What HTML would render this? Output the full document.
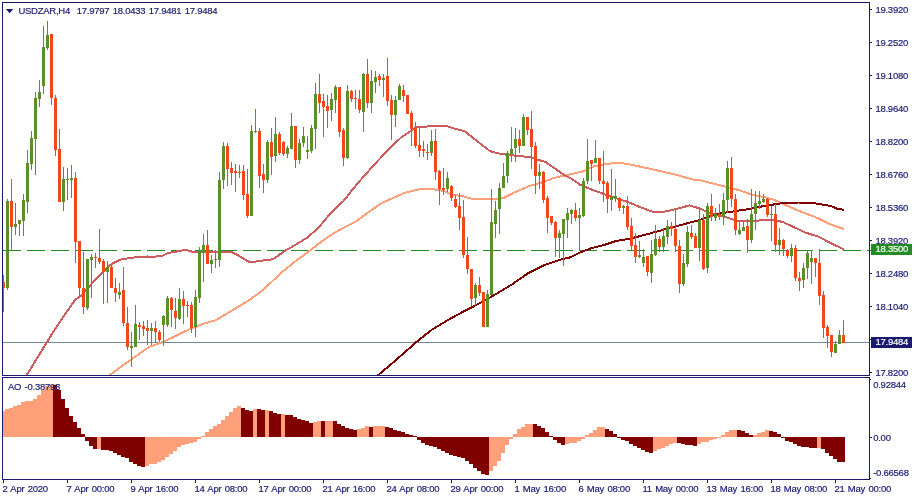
<!DOCTYPE html>
<html lang="en"><head><meta charset="utf-8"><title>USDZAR,H4</title>
<style>html,body{margin:0;padding:0;background:#fff}body{width:915px;height:500px;overflow:hidden}svg{display:block}text{font-family:"Liberation Sans",sans-serif;font-size:9.5px;fill:#191970;stroke:#191970;stroke-width:0.18px;letter-spacing:-0.25px;word-spacing:1px}</style></head><body>
<svg width="915" height="500" viewBox="0 0 915 500">
<rect width="915" height="500" fill="#fff"/>
<defs><clipPath id="cm"><rect x="3" y="3" width="866" height="372"/></clipPath></defs>
<g clip-path="url(#cm)">
<g fill="#228b22">
<rect x="3" y="250" width="18" height="1"/>
<rect x="27" y="250" width="18" height="1"/>
<rect x="51" y="250" width="18" height="1"/>
<rect x="75" y="250" width="18" height="1"/>
<rect x="99" y="250" width="18" height="1"/>
<rect x="123" y="250" width="18" height="1"/>
<rect x="147" y="250" width="18" height="1"/>
<rect x="171" y="250" width="18" height="1"/>
<rect x="195" y="250" width="18" height="1"/>
<rect x="219" y="250" width="18" height="1"/>
<rect x="243" y="250" width="18" height="1"/>
<rect x="267" y="250" width="18" height="1"/>
<rect x="291" y="250" width="18" height="1"/>
<rect x="315" y="250" width="18" height="1"/>
<rect x="339" y="250" width="18" height="1"/>
<rect x="363" y="250" width="18" height="1"/>
<rect x="387" y="250" width="18" height="1"/>
<rect x="411" y="250" width="18" height="1"/>
<rect x="435" y="250" width="18" height="1"/>
<rect x="459" y="250" width="18" height="1"/>
<rect x="483" y="250" width="18" height="1"/>
<rect x="507" y="250" width="18" height="1"/>
<rect x="531" y="250" width="18" height="1"/>
<rect x="555" y="250" width="18" height="1"/>
<rect x="579" y="250" width="18" height="1"/>
<rect x="603" y="250" width="18" height="1"/>
<rect x="627" y="250" width="18" height="1"/>
<rect x="651" y="250" width="18" height="1"/>
<rect x="675" y="250" width="18" height="1"/>
<rect x="699" y="250" width="18" height="1"/>
<rect x="723" y="250" width="18" height="1"/>
<rect x="747" y="250" width="18" height="1"/>
<rect x="771" y="250" width="18" height="1"/>
<rect x="795" y="250" width="18" height="1"/>
<rect x="819" y="250" width="18" height="1"/>
<rect x="843" y="250" width="18" height="1"/>
<rect x="867" y="250" width="2" height="1"/>
</g>
<rect x="3" y="342" width="866" height="1" fill="#778899"/>
<polyline shape-rendering="crispEdges" fill="none" stroke="#ffa07a" stroke-width="2" stroke-linejoin="round" points="106,378 110.7,374.6 121.3,366.4 131,359.8 141,352.5 150,346.5 163,342 174.6,336.4 189.3,329.3 204,323.6 215.6,320.3 232,310.5 248.4,300.7 263,290 281,273 295.7,261 311.3,249.7 319.5,243 332.6,234 344,227.5 355.6,221.8 368.7,212 381.8,203 388.4,200 404.8,192.8 417.9,189.6 427.7,188.6 437.7,189.8 444,191 451.3,194.6 462.8,196.2 472.6,199 495.6,199 503.8,197.9 515.2,192 528.4,186.4 544.8,181.5 553.8,177.9 568.5,174.7 583,171.4 594.7,166 606,164.2 617.6,162.6 627.4,164 643.8,167.4 661.8,171.5 676.6,174.8 691.3,179.3 700,180.3 713,183.6 726.2,186.9 739.3,190.2 750.8,194.3 765.6,197.5 773.8,199.7 785.2,204.9 798.4,210.7 814.8,216.8 831,224.6 843.8,229"/>
<polyline shape-rendering="crispEdges" fill="none" stroke="#cd5c5c" stroke-width="2" stroke-linejoin="round" points="25,378 27,374.6 46.7,342.6 52.5,333 65.6,313.5 75.4,299.5 82,295 91.8,283.6 101.6,273 111.5,264 119.7,259.8 131,257.7 147.5,256.5 150,257.2 163,255.6 168,253 186,249.8 192.6,251.8 207.4,252.3 222,251.5 232,252.3 238.5,255.6 248.4,261.6 255,261.6 273,259.2 286,250.2 290,248 306.4,238.2 317.9,228.4 331,212.8 344,200.5 352.3,189.8 362.3,178 375.4,163.3 390.2,147.7 401.6,137 411.5,130.5 416.4,127.4 428,126.4 448,126.4 454.6,128.7 464.4,131.1 480,143.4 489.8,151 499.7,153.8 512.8,155.4 529,157 545.6,162 555.4,168.9 565,175.4 572,179 579.8,184.6 591.3,189.5 602.8,193.6 614.3,197.7 627.4,201.8 638.9,206.7 652,211.6 665,211.6 676.6,208.9 689.7,205.4 699.5,208.4 709.5,212.8 721.3,215.7 736.4,220.5 745,220.9 755.7,220.8 769,219.6 782.3,221.8 793.6,227 805.2,232.5 818.4,236.6 831.5,243.6 843.8,249.3"/>
<polyline shape-rendering="crispEdges" fill="none" stroke="#800000" stroke-width="2" stroke-linejoin="round" points="375,378 378.7,374.7 396,360 415.6,342.7 432,329.6 448.4,319.8 464.8,310.8 481,302.6 495.6,294.3 512,284.4 528.4,273 544.8,264.8 561,259.5 570,257.4 579.8,252.5 591.3,248.2 602.8,245.4 616,241 629,238.9 642,235.6 655.2,232 668.4,228.4 684.8,224 699.5,220 716.4,214 732.8,211.5 749,209 765.6,205.7 777,204 785.2,202.8 798.4,202.5 811.5,202.8 821.3,204.4 831,206 837.7,209 844,209.8"/>
<g fill="#5a8f29">
<rect x="7" y="199" width="1" height="91"/>
<rect x="6" y="201" width="3" height="87"/>
<rect x="15" y="203" width="1" height="32"/>
<rect x="14" y="224" width="3" height="3"/>
<rect x="19" y="220" width="1" height="16"/>
<rect x="18" y="220" width="3" height="4"/>
<rect x="23" y="194" width="1" height="42"/>
<rect x="22" y="200" width="3" height="21"/>
<rect x="27" y="150" width="1" height="63"/>
<rect x="26" y="163" width="3" height="39"/>
<rect x="31" y="131" width="1" height="39"/>
<rect x="30" y="138" width="3" height="26"/>
<rect x="35" y="92" width="1" height="83"/>
<rect x="34" y="98" width="3" height="41"/>
<rect x="39" y="80" width="1" height="27"/>
<rect x="38" y="92" width="3" height="7"/>
<rect x="43" y="26" width="1" height="68"/>
<rect x="42" y="47" width="3" height="39"/>
<rect x="47" y="21" width="1" height="29"/>
<rect x="46" y="35" width="3" height="13"/>
<rect x="63" y="167" width="1" height="44"/>
<rect x="62" y="179" width="3" height="23"/>
<rect x="67" y="168" width="1" height="32"/>
<rect x="66" y="179" width="3" height="1"/>
<rect x="71" y="165" width="1" height="33"/>
<rect x="70" y="178" width="3" height="2"/>
<rect x="87" y="259" width="1" height="51"/>
<rect x="86" y="259" width="3" height="49"/>
<rect x="91" y="254" width="1" height="44"/>
<rect x="90" y="257" width="3" height="3"/>
<rect x="107" y="261" width="1" height="42"/>
<rect x="106" y="267" width="3" height="5"/>
<rect x="119" y="283" width="1" height="16"/>
<rect x="118" y="292" width="3" height="3"/>
<rect x="131" y="332" width="1" height="35"/>
<rect x="130" y="346" width="3" height="2"/>
<rect x="135" y="305" width="1" height="42"/>
<rect x="134" y="324" width="3" height="23"/>
<rect x="151" y="323" width="1" height="22"/>
<rect x="150" y="328" width="3" height="3"/>
<rect x="163" y="315" width="1" height="31"/>
<rect x="162" y="316" width="3" height="9"/>
<rect x="167" y="296" width="1" height="31"/>
<rect x="166" y="298" width="3" height="27"/>
<rect x="179" y="288" width="1" height="32"/>
<rect x="178" y="299" width="3" height="20"/>
<rect x="195" y="290" width="1" height="47"/>
<rect x="194" y="297" width="3" height="30"/>
<rect x="199" y="247" width="1" height="56"/>
<rect x="198" y="251" width="3" height="47"/>
<rect x="203" y="234" width="1" height="48"/>
<rect x="202" y="245" width="3" height="8"/>
<rect x="211" y="255" width="1" height="18"/>
<rect x="210" y="260" width="3" height="4"/>
<rect x="215" y="250" width="1" height="18"/>
<rect x="214" y="259" width="3" height="1"/>
<rect x="219" y="172" width="1" height="95"/>
<rect x="218" y="180" width="3" height="80"/>
<rect x="223" y="142" width="1" height="47"/>
<rect x="222" y="146" width="3" height="34"/>
<rect x="251" y="125" width="1" height="91"/>
<rect x="250" y="131" width="3" height="85"/>
<rect x="255" y="109" width="1" height="24"/>
<rect x="254" y="131" width="3" height="1"/>
<rect x="267" y="140" width="1" height="43"/>
<rect x="266" y="142" width="3" height="38"/>
<rect x="275" y="117" width="1" height="45"/>
<rect x="274" y="134" width="3" height="22"/>
<rect x="287" y="146" width="1" height="12"/>
<rect x="286" y="148" width="3" height="6"/>
<rect x="291" y="113" width="1" height="36"/>
<rect x="290" y="126" width="3" height="23"/>
<rect x="299" y="139" width="1" height="25"/>
<rect x="298" y="143" width="3" height="17"/>
<rect x="303" y="127" width="1" height="20"/>
<rect x="302" y="136" width="3" height="7"/>
<rect x="307" y="136" width="1" height="23"/>
<rect x="306" y="150" width="3" height="2"/>
<rect x="311" y="125" width="1" height="28"/>
<rect x="310" y="128" width="3" height="23"/>
<rect x="315" y="83" width="1" height="66"/>
<rect x="314" y="94" width="3" height="35"/>
<rect x="331" y="93" width="1" height="28"/>
<rect x="330" y="99" width="3" height="11"/>
<rect x="335" y="85" width="1" height="28"/>
<rect x="334" y="87" width="3" height="13"/>
<rect x="347" y="85" width="1" height="74"/>
<rect x="346" y="91" width="3" height="67"/>
<rect x="363" y="73" width="1" height="59"/>
<rect x="362" y="74" width="3" height="38"/>
<rect x="371" y="70" width="1" height="43"/>
<rect x="370" y="81" width="3" height="22"/>
<rect x="375" y="71" width="1" height="22"/>
<rect x="374" y="77" width="3" height="5"/>
<rect x="383" y="74" width="1" height="23"/>
<rect x="382" y="78" width="3" height="2"/>
<rect x="395" y="96" width="1" height="31"/>
<rect x="394" y="100" width="3" height="15"/>
<rect x="399" y="84" width="1" height="16"/>
<rect x="398" y="86" width="3" height="14"/>
<rect x="431" y="130" width="1" height="26"/>
<rect x="430" y="141" width="3" height="12"/>
<rect x="447" y="172" width="1" height="20"/>
<rect x="446" y="178" width="3" height="11"/>
<rect x="475" y="283" width="1" height="22"/>
<rect x="474" y="285" width="3" height="13"/>
<rect x="487" y="290" width="1" height="37"/>
<rect x="486" y="294" width="3" height="33"/>
<rect x="491" y="189" width="1" height="106"/>
<rect x="490" y="222" width="3" height="73"/>
<rect x="495" y="201" width="1" height="37"/>
<rect x="494" y="210" width="3" height="14"/>
<rect x="499" y="183" width="1" height="51"/>
<rect x="498" y="188" width="3" height="21"/>
<rect x="503" y="163" width="1" height="25"/>
<rect x="502" y="176" width="3" height="12"/>
<rect x="507" y="151" width="1" height="32"/>
<rect x="506" y="153" width="3" height="23"/>
<rect x="511" y="127" width="1" height="35"/>
<rect x="510" y="149" width="3" height="5"/>
<rect x="515" y="128" width="1" height="34"/>
<rect x="514" y="139" width="3" height="9"/>
<rect x="523" y="114" width="1" height="32"/>
<rect x="522" y="117" width="3" height="29"/>
<rect x="539" y="164" width="1" height="25"/>
<rect x="538" y="172" width="3" height="4"/>
<rect x="559" y="230" width="1" height="28"/>
<rect x="558" y="233" width="3" height="5"/>
<rect x="563" y="219" width="1" height="47"/>
<rect x="562" y="219" width="3" height="15"/>
<rect x="567" y="208" width="1" height="30"/>
<rect x="566" y="213" width="3" height="7"/>
<rect x="571" y="209" width="1" height="15"/>
<rect x="570" y="210" width="3" height="4"/>
<rect x="579" y="208" width="1" height="43"/>
<rect x="578" y="215" width="3" height="3"/>
<rect x="583" y="178" width="1" height="39"/>
<rect x="582" y="181" width="3" height="35"/>
<rect x="587" y="139" width="1" height="45"/>
<rect x="586" y="161" width="3" height="20"/>
<rect x="595" y="140" width="1" height="23"/>
<rect x="594" y="158" width="3" height="5"/>
<rect x="611" y="169" width="1" height="42"/>
<rect x="610" y="197" width="3" height="3"/>
<rect x="615" y="179" width="1" height="23"/>
<rect x="614" y="196" width="3" height="3"/>
<rect x="623" y="205" width="1" height="9"/>
<rect x="622" y="206" width="3" height="2"/>
<rect x="639" y="241" width="1" height="17"/>
<rect x="638" y="255" width="3" height="2"/>
<rect x="643" y="249" width="1" height="18"/>
<rect x="642" y="257" width="3" height="6"/>
<rect x="651" y="240" width="1" height="43"/>
<rect x="650" y="254" width="3" height="19"/>
<rect x="655" y="225" width="1" height="31"/>
<rect x="654" y="239" width="3" height="16"/>
<rect x="663" y="228" width="1" height="24"/>
<rect x="662" y="236" width="3" height="11"/>
<rect x="667" y="220" width="1" height="24"/>
<rect x="666" y="226" width="3" height="11"/>
<rect x="683" y="254" width="1" height="32"/>
<rect x="682" y="263" width="3" height="21"/>
<rect x="687" y="226" width="1" height="41"/>
<rect x="686" y="232" width="3" height="32"/>
<rect x="699" y="208" width="1" height="53"/>
<rect x="698" y="220" width="3" height="28"/>
<rect x="707" y="203" width="1" height="70"/>
<rect x="706" y="206" width="3" height="62"/>
<rect x="715" y="208" width="1" height="13"/>
<rect x="714" y="214" width="3" height="4"/>
<rect x="723" y="193" width="1" height="32"/>
<rect x="722" y="200" width="3" height="17"/>
<rect x="727" y="161" width="1" height="52"/>
<rect x="726" y="168" width="3" height="32"/>
<rect x="739" y="222" width="1" height="13"/>
<rect x="738" y="230" width="3" height="4"/>
<rect x="743" y="222" width="1" height="9"/>
<rect x="742" y="227" width="3" height="4"/>
<rect x="751" y="189" width="1" height="54"/>
<rect x="750" y="214" width="3" height="26"/>
<rect x="755" y="191" width="1" height="39"/>
<rect x="754" y="203" width="3" height="11"/>
<rect x="759" y="191" width="1" height="18"/>
<rect x="758" y="201" width="3" height="3"/>
<rect x="763" y="194" width="1" height="9"/>
<rect x="762" y="199" width="3" height="3"/>
<rect x="771" y="206" width="1" height="35"/>
<rect x="770" y="214" width="3" height="1"/>
<rect x="779" y="228" width="1" height="27"/>
<rect x="778" y="240" width="3" height="5"/>
<rect x="791" y="244" width="1" height="18"/>
<rect x="790" y="248" width="3" height="8"/>
<rect x="803" y="263" width="1" height="25"/>
<rect x="802" y="268" width="3" height="12"/>
<rect x="807" y="250" width="1" height="29"/>
<rect x="806" y="253" width="3" height="15"/>
<rect x="811" y="250" width="1" height="34"/>
<rect x="810" y="258" width="3" height="4"/>
<rect x="835" y="341" width="1" height="12"/>
<rect x="834" y="344" width="3" height="9"/>
<rect x="839" y="330" width="1" height="14"/>
<rect x="838" y="335" width="3" height="9"/>
</g>
<g fill="#f0471c">
<rect x="3" y="275" width="1" height="37"/>
<rect x="2" y="282" width="3" height="6"/>
<rect x="11" y="179" width="1" height="72"/>
<rect x="10" y="201" width="3" height="26"/>
<rect x="51" y="34" width="1" height="71"/>
<rect x="50" y="34" width="3" height="64"/>
<rect x="55" y="95" width="1" height="61"/>
<rect x="54" y="98" width="3" height="52"/>
<rect x="59" y="129" width="1" height="73"/>
<rect x="58" y="149" width="3" height="53"/>
<rect x="75" y="172" width="1" height="91"/>
<rect x="74" y="178" width="3" height="64"/>
<rect x="79" y="241" width="1" height="55"/>
<rect x="78" y="241" width="3" height="47"/>
<rect x="83" y="252" width="1" height="62"/>
<rect x="82" y="288" width="3" height="19"/>
<rect x="95" y="253" width="1" height="15"/>
<rect x="94" y="257" width="3" height="1"/>
<rect x="99" y="229" width="1" height="35"/>
<rect x="98" y="258" width="3" height="4"/>
<rect x="103" y="259" width="1" height="45"/>
<rect x="102" y="261" width="3" height="11"/>
<rect x="111" y="265" width="1" height="23"/>
<rect x="110" y="267" width="3" height="21"/>
<rect x="115" y="278" width="1" height="24"/>
<rect x="114" y="288" width="3" height="5"/>
<rect x="123" y="267" width="1" height="59"/>
<rect x="122" y="290" width="3" height="33"/>
<rect x="127" y="307" width="1" height="43"/>
<rect x="126" y="323" width="3" height="24"/>
<rect x="139" y="322" width="1" height="18"/>
<rect x="138" y="325" width="3" height="2"/>
<rect x="143" y="321" width="1" height="15"/>
<rect x="142" y="326" width="3" height="3"/>
<rect x="147" y="320" width="1" height="25"/>
<rect x="146" y="328" width="3" height="3"/>
<rect x="155" y="321" width="1" height="22"/>
<rect x="154" y="328" width="3" height="4"/>
<rect x="159" y="330" width="1" height="12"/>
<rect x="158" y="332" width="3" height="8"/>
<rect x="171" y="297" width="1" height="30"/>
<rect x="170" y="298" width="3" height="12"/>
<rect x="175" y="298" width="1" height="31"/>
<rect x="174" y="311" width="3" height="7"/>
<rect x="183" y="291" width="1" height="33"/>
<rect x="182" y="299" width="3" height="7"/>
<rect x="187" y="301" width="1" height="16"/>
<rect x="186" y="305" width="3" height="1"/>
<rect x="191" y="302" width="1" height="31"/>
<rect x="190" y="305" width="3" height="23"/>
<rect x="207" y="230" width="1" height="34"/>
<rect x="206" y="245" width="3" height="19"/>
<rect x="227" y="143" width="1" height="43"/>
<rect x="226" y="146" width="3" height="23"/>
<rect x="231" y="162" width="1" height="23"/>
<rect x="230" y="168" width="3" height="5"/>
<rect x="235" y="164" width="1" height="28"/>
<rect x="234" y="171" width="3" height="2"/>
<rect x="239" y="165" width="1" height="13"/>
<rect x="238" y="172" width="3" height="1"/>
<rect x="243" y="165" width="1" height="35"/>
<rect x="242" y="171" width="3" height="24"/>
<rect x="247" y="169" width="1" height="49"/>
<rect x="246" y="194" width="3" height="22"/>
<rect x="259" y="128" width="1" height="60"/>
<rect x="258" y="131" width="3" height="45"/>
<rect x="263" y="164" width="1" height="29"/>
<rect x="262" y="174" width="3" height="6"/>
<rect x="271" y="128" width="1" height="47"/>
<rect x="270" y="142" width="3" height="15"/>
<rect x="279" y="132" width="1" height="23"/>
<rect x="278" y="134" width="3" height="19"/>
<rect x="283" y="141" width="1" height="15"/>
<rect x="282" y="142" width="3" height="12"/>
<rect x="295" y="126" width="1" height="42"/>
<rect x="294" y="126" width="3" height="34"/>
<rect x="319" y="74" width="1" height="39"/>
<rect x="318" y="94" width="3" height="9"/>
<rect x="323" y="94" width="1" height="43"/>
<rect x="322" y="101" width="3" height="6"/>
<rect x="327" y="95" width="1" height="33"/>
<rect x="326" y="106" width="3" height="5"/>
<rect x="339" y="87" width="1" height="50"/>
<rect x="338" y="87" width="3" height="45"/>
<rect x="343" y="128" width="1" height="38"/>
<rect x="342" y="130" width="3" height="28"/>
<rect x="351" y="90" width="1" height="12"/>
<rect x="350" y="91" width="3" height="8"/>
<rect x="355" y="90" width="1" height="19"/>
<rect x="354" y="98" width="3" height="1"/>
<rect x="359" y="90" width="1" height="23"/>
<rect x="358" y="99" width="3" height="11"/>
<rect x="367" y="59" width="1" height="49"/>
<rect x="366" y="74" width="3" height="29"/>
<rect x="379" y="74" width="1" height="12"/>
<rect x="378" y="76" width="3" height="4"/>
<rect x="387" y="58" width="1" height="48"/>
<rect x="386" y="76" width="3" height="25"/>
<rect x="391" y="95" width="1" height="45"/>
<rect x="390" y="100" width="3" height="15"/>
<rect x="403" y="85" width="1" height="17"/>
<rect x="402" y="90" width="3" height="6"/>
<rect x="407" y="95" width="1" height="19"/>
<rect x="406" y="95" width="3" height="19"/>
<rect x="411" y="111" width="1" height="35"/>
<rect x="410" y="113" width="3" height="16"/>
<rect x="415" y="122" width="1" height="26"/>
<rect x="414" y="128" width="3" height="18"/>
<rect x="419" y="128" width="1" height="29"/>
<rect x="418" y="145" width="3" height="6"/>
<rect x="423" y="141" width="1" height="16"/>
<rect x="422" y="149" width="3" height="2"/>
<rect x="427" y="144" width="1" height="16"/>
<rect x="426" y="152" width="3" height="1"/>
<rect x="435" y="129" width="1" height="51"/>
<rect x="434" y="141" width="3" height="31"/>
<rect x="439" y="170" width="1" height="35"/>
<rect x="438" y="171" width="3" height="18"/>
<rect x="443" y="168" width="1" height="27"/>
<rect x="442" y="188" width="3" height="2"/>
<rect x="451" y="185" width="1" height="16"/>
<rect x="450" y="186" width="3" height="12"/>
<rect x="455" y="195" width="1" height="13"/>
<rect x="454" y="199" width="3" height="8"/>
<rect x="459" y="193" width="1" height="37"/>
<rect x="458" y="206" width="3" height="12"/>
<rect x="463" y="200" width="1" height="58"/>
<rect x="462" y="217" width="3" height="38"/>
<rect x="467" y="237" width="1" height="37"/>
<rect x="466" y="255" width="3" height="14"/>
<rect x="471" y="269" width="1" height="37"/>
<rect x="470" y="269" width="3" height="30"/>
<rect x="479" y="277" width="1" height="19"/>
<rect x="478" y="285" width="3" height="8"/>
<rect x="483" y="292" width="1" height="35"/>
<rect x="482" y="292" width="3" height="35"/>
<rect x="519" y="130" width="1" height="23"/>
<rect x="518" y="139" width="3" height="7"/>
<rect x="527" y="117" width="1" height="18"/>
<rect x="526" y="117" width="3" height="13"/>
<rect x="531" y="111" width="1" height="58"/>
<rect x="530" y="129" width="3" height="18"/>
<rect x="535" y="142" width="1" height="52"/>
<rect x="534" y="146" width="3" height="30"/>
<rect x="543" y="171" width="1" height="32"/>
<rect x="542" y="172" width="3" height="28"/>
<rect x="547" y="196" width="1" height="37"/>
<rect x="546" y="198" width="3" height="20"/>
<rect x="551" y="216" width="1" height="9"/>
<rect x="550" y="216" width="3" height="7"/>
<rect x="555" y="221" width="1" height="36"/>
<rect x="554" y="222" width="3" height="16"/>
<rect x="575" y="203" width="1" height="18"/>
<rect x="574" y="210" width="3" height="8"/>
<rect x="591" y="160" width="1" height="21"/>
<rect x="590" y="160" width="3" height="4"/>
<rect x="599" y="158" width="1" height="26"/>
<rect x="598" y="158" width="3" height="23"/>
<rect x="603" y="151" width="1" height="51"/>
<rect x="602" y="181" width="3" height="3"/>
<rect x="607" y="181" width="1" height="32"/>
<rect x="606" y="183" width="3" height="16"/>
<rect x="619" y="197" width="1" height="14"/>
<rect x="618" y="198" width="3" height="10"/>
<rect x="627" y="196" width="1" height="34"/>
<rect x="626" y="206" width="3" height="21"/>
<rect x="631" y="218" width="1" height="32"/>
<rect x="630" y="226" width="3" height="20"/>
<rect x="635" y="233" width="1" height="30"/>
<rect x="634" y="245" width="3" height="12"/>
<rect x="647" y="256" width="1" height="20"/>
<rect x="646" y="256" width="3" height="16"/>
<rect x="659" y="236" width="1" height="16"/>
<rect x="658" y="239" width="3" height="8"/>
<rect x="671" y="222" width="1" height="14"/>
<rect x="670" y="226" width="3" height="3"/>
<rect x="675" y="210" width="1" height="42"/>
<rect x="674" y="229" width="3" height="17"/>
<rect x="679" y="240" width="1" height="53"/>
<rect x="678" y="246" width="3" height="38"/>
<rect x="691" y="225" width="1" height="14"/>
<rect x="690" y="233" width="3" height="4"/>
<rect x="695" y="233" width="1" height="15"/>
<rect x="694" y="236" width="3" height="12"/>
<rect x="703" y="214" width="1" height="56"/>
<rect x="702" y="220" width="3" height="49"/>
<rect x="711" y="194" width="1" height="27"/>
<rect x="710" y="206" width="3" height="11"/>
<rect x="719" y="204" width="1" height="16"/>
<rect x="718" y="214" width="3" height="3"/>
<rect x="731" y="157" width="1" height="50"/>
<rect x="730" y="168" width="3" height="31"/>
<rect x="735" y="194" width="1" height="41"/>
<rect x="734" y="199" width="3" height="31"/>
<rect x="747" y="219" width="1" height="34"/>
<rect x="746" y="226" width="3" height="14"/>
<rect x="767" y="198" width="1" height="19"/>
<rect x="766" y="199" width="3" height="16"/>
<rect x="775" y="204" width="1" height="48"/>
<rect x="774" y="214" width="3" height="31"/>
<rect x="783" y="239" width="1" height="17"/>
<rect x="782" y="240" width="3" height="9"/>
<rect x="787" y="249" width="1" height="9"/>
<rect x="786" y="250" width="3" height="6"/>
<rect x="795" y="245" width="1" height="36"/>
<rect x="794" y="248" width="3" height="30"/>
<rect x="799" y="272" width="1" height="19"/>
<rect x="798" y="278" width="3" height="3"/>
<rect x="815" y="258" width="1" height="19"/>
<rect x="814" y="258" width="3" height="5"/>
<rect x="819" y="249" width="1" height="56"/>
<rect x="818" y="263" width="3" height="33"/>
<rect x="823" y="291" width="1" height="47"/>
<rect x="822" y="295" width="3" height="33"/>
<rect x="827" y="325" width="1" height="23"/>
<rect x="826" y="327" width="3" height="9"/>
<rect x="831" y="335" width="1" height="22"/>
<rect x="830" y="335" width="3" height="17"/>
<rect x="843" y="320" width="1" height="23"/>
<rect x="842" y="335" width="3" height="8"/>
</g>
</g>
<g fill="#ffa07a">
<rect x="3" y="411" width="2" height="26"/>
<rect x="5" y="409" width="4" height="28"/>
<rect x="9" y="408" width="4" height="29"/>
<rect x="13" y="406" width="4" height="31"/>
<rect x="17" y="405" width="4" height="32"/>
<rect x="21" y="402" width="4" height="35"/>
<rect x="25" y="401" width="4" height="36"/>
<rect x="29" y="401" width="4" height="36"/>
<rect x="33" y="399" width="4" height="38"/>
<rect x="37" y="395" width="4" height="42"/>
<rect x="41" y="390" width="4" height="47"/>
<rect x="45" y="386" width="4" height="51"/>
<rect x="49" y="385" width="4" height="52"/>
<rect x="97" y="437" width="4" height="12"/>
<rect x="145" y="437" width="4" height="29"/>
<rect x="149" y="437" width="4" height="27"/>
<rect x="153" y="437" width="4" height="27"/>
<rect x="157" y="437" width="4" height="25"/>
<rect x="161" y="437" width="4" height="23"/>
<rect x="165" y="437" width="4" height="20"/>
<rect x="169" y="437" width="4" height="17"/>
<rect x="173" y="437" width="4" height="14"/>
<rect x="177" y="437" width="4" height="10"/>
<rect x="181" y="437" width="4" height="8"/>
<rect x="185" y="437" width="4" height="7"/>
<rect x="189" y="437" width="4" height="6"/>
<rect x="193" y="437" width="4" height="5"/>
<rect x="197" y="437" width="4" height="2"/>
<rect x="201" y="436" width="4" height="1"/>
<rect x="205" y="432" width="4" height="5"/>
<rect x="209" y="429" width="4" height="8"/>
<rect x="213" y="426" width="4" height="11"/>
<rect x="217" y="424" width="4" height="13"/>
<rect x="221" y="420" width="4" height="17"/>
<rect x="225" y="416" width="4" height="21"/>
<rect x="229" y="412" width="4" height="25"/>
<rect x="233" y="408" width="4" height="29"/>
<rect x="237" y="406" width="4" height="31"/>
<rect x="253" y="409" width="4" height="28"/>
<rect x="265" y="410" width="4" height="27"/>
<rect x="281" y="414" width="4" height="23"/>
<rect x="313" y="422" width="4" height="15"/>
<rect x="317" y="421" width="4" height="16"/>
<rect x="325" y="421" width="4" height="16"/>
<rect x="329" y="421" width="4" height="16"/>
<rect x="357" y="429" width="4" height="8"/>
<rect x="361" y="428" width="4" height="9"/>
<rect x="365" y="426" width="4" height="11"/>
<rect x="373" y="426" width="4" height="11"/>
<rect x="377" y="426" width="4" height="11"/>
<rect x="381" y="426" width="4" height="11"/>
<rect x="489" y="437" width="4" height="34"/>
<rect x="493" y="437" width="4" height="29"/>
<rect x="497" y="437" width="4" height="24"/>
<rect x="501" y="437" width="4" height="16"/>
<rect x="505" y="437" width="4" height="8"/>
<rect x="509" y="437" width="4" height="2"/>
<rect x="513" y="434" width="4" height="3"/>
<rect x="517" y="429" width="4" height="8"/>
<rect x="521" y="427" width="4" height="10"/>
<rect x="525" y="424" width="4" height="13"/>
<rect x="529" y="424" width="4" height="13"/>
<rect x="565" y="437" width="4" height="7"/>
<rect x="569" y="437" width="4" height="6"/>
<rect x="573" y="437" width="4" height="6"/>
<rect x="577" y="437" width="4" height="4"/>
<rect x="581" y="437" width="4" height="2"/>
<rect x="585" y="435" width="4" height="2"/>
<rect x="589" y="433" width="4" height="4"/>
<rect x="593" y="430" width="4" height="7"/>
<rect x="597" y="427" width="4" height="10"/>
<rect x="601" y="427" width="4" height="10"/>
<rect x="653" y="437" width="4" height="14"/>
<rect x="657" y="437" width="4" height="12"/>
<rect x="661" y="437" width="4" height="11"/>
<rect x="665" y="437" width="4" height="9"/>
<rect x="669" y="437" width="4" height="7"/>
<rect x="673" y="437" width="4" height="6"/>
<rect x="697" y="437" width="4" height="7"/>
<rect x="701" y="437" width="4" height="5"/>
<rect x="705" y="437" width="4" height="5"/>
<rect x="709" y="437" width="4" height="3"/>
<rect x="713" y="437" width="4" height="2"/>
<rect x="717" y="437" width="4" height="1"/>
<rect x="721" y="435" width="4" height="2"/>
<rect x="725" y="432" width="4" height="5"/>
<rect x="729" y="430" width="4" height="7"/>
<rect x="733" y="430" width="4" height="7"/>
<rect x="753" y="435" width="4" height="2"/>
<rect x="757" y="433" width="4" height="4"/>
<rect x="761" y="432" width="4" height="5"/>
<rect x="765" y="430" width="4" height="7"/>
<rect x="817" y="437" width="4" height="11"/>
</g>
<g fill="#800000">
<rect x="53" y="385" width="4" height="52"/>
<rect x="57" y="390" width="4" height="47"/>
<rect x="61" y="399" width="4" height="38"/>
<rect x="65" y="408" width="4" height="29"/>
<rect x="69" y="416" width="4" height="21"/>
<rect x="73" y="422" width="4" height="15"/>
<rect x="77" y="428" width="4" height="9"/>
<rect x="81" y="434" width="4" height="3"/>
<rect x="85" y="437" width="4" height="4"/>
<rect x="89" y="437" width="4" height="9"/>
<rect x="93" y="437" width="4" height="12"/>
<rect x="101" y="437" width="4" height="13"/>
<rect x="105" y="437" width="4" height="13"/>
<rect x="109" y="437" width="4" height="14"/>
<rect x="113" y="437" width="4" height="16"/>
<rect x="117" y="437" width="4" height="18"/>
<rect x="121" y="437" width="4" height="20"/>
<rect x="125" y="437" width="4" height="21"/>
<rect x="129" y="437" width="4" height="25"/>
<rect x="133" y="437" width="4" height="27"/>
<rect x="137" y="437" width="4" height="29"/>
<rect x="141" y="437" width="4" height="30"/>
<rect x="241" y="408" width="4" height="29"/>
<rect x="245" y="410" width="4" height="27"/>
<rect x="249" y="411" width="4" height="26"/>
<rect x="257" y="409" width="4" height="28"/>
<rect x="261" y="410" width="4" height="27"/>
<rect x="269" y="411" width="4" height="26"/>
<rect x="273" y="413" width="4" height="24"/>
<rect x="277" y="414" width="4" height="23"/>
<rect x="285" y="415" width="4" height="22"/>
<rect x="289" y="415" width="4" height="22"/>
<rect x="293" y="417" width="4" height="20"/>
<rect x="297" y="419" width="4" height="18"/>
<rect x="301" y="420" width="4" height="17"/>
<rect x="305" y="421" width="4" height="16"/>
<rect x="309" y="423" width="4" height="14"/>
<rect x="321" y="421" width="4" height="16"/>
<rect x="333" y="421" width="4" height="16"/>
<rect x="337" y="424" width="4" height="13"/>
<rect x="341" y="426" width="4" height="11"/>
<rect x="345" y="428" width="4" height="9"/>
<rect x="349" y="429" width="4" height="8"/>
<rect x="353" y="430" width="4" height="7"/>
<rect x="369" y="427" width="4" height="10"/>
<rect x="385" y="427" width="4" height="10"/>
<rect x="389" y="428" width="4" height="9"/>
<rect x="393" y="430" width="4" height="7"/>
<rect x="397" y="431" width="4" height="6"/>
<rect x="401" y="432" width="4" height="5"/>
<rect x="405" y="434" width="4" height="3"/>
<rect x="409" y="435" width="4" height="2"/>
<rect x="413" y="436" width="4" height="1"/>
<rect x="417" y="437" width="4" height="3"/>
<rect x="421" y="437" width="4" height="6"/>
<rect x="425" y="437" width="4" height="8"/>
<rect x="429" y="437" width="4" height="9"/>
<rect x="433" y="437" width="4" height="10"/>
<rect x="437" y="437" width="4" height="12"/>
<rect x="441" y="437" width="4" height="14"/>
<rect x="445" y="437" width="4" height="16"/>
<rect x="449" y="437" width="4" height="18"/>
<rect x="453" y="437" width="4" height="19"/>
<rect x="457" y="437" width="4" height="20"/>
<rect x="461" y="437" width="4" height="21"/>
<rect x="465" y="437" width="4" height="24"/>
<rect x="469" y="437" width="4" height="27"/>
<rect x="473" y="437" width="4" height="31"/>
<rect x="477" y="437" width="4" height="34"/>
<rect x="481" y="437" width="4" height="37"/>
<rect x="485" y="437" width="4" height="38"/>
<rect x="533" y="424" width="4" height="13"/>
<rect x="537" y="426" width="4" height="11"/>
<rect x="541" y="428" width="4" height="9"/>
<rect x="545" y="432" width="4" height="5"/>
<rect x="549" y="436" width="4" height="1"/>
<rect x="553" y="437" width="4" height="3"/>
<rect x="557" y="437" width="4" height="6"/>
<rect x="561" y="437" width="4" height="8"/>
<rect x="605" y="429" width="4" height="8"/>
<rect x="609" y="431" width="4" height="6"/>
<rect x="613" y="434" width="4" height="3"/>
<rect x="617" y="437" width="4" height="1"/>
<rect x="621" y="437" width="4" height="3"/>
<rect x="625" y="437" width="4" height="4"/>
<rect x="629" y="437" width="4" height="7"/>
<rect x="633" y="437" width="4" height="9"/>
<rect x="637" y="437" width="4" height="11"/>
<rect x="641" y="437" width="4" height="13"/>
<rect x="645" y="437" width="4" height="15"/>
<rect x="649" y="437" width="4" height="16"/>
<rect x="677" y="437" width="4" height="6"/>
<rect x="681" y="437" width="4" height="7"/>
<rect x="685" y="437" width="4" height="8"/>
<rect x="689" y="437" width="4" height="8"/>
<rect x="693" y="437" width="4" height="9"/>
<rect x="737" y="430" width="4" height="7"/>
<rect x="741" y="431" width="4" height="6"/>
<rect x="745" y="433" width="4" height="4"/>
<rect x="749" y="435" width="4" height="2"/>
<rect x="769" y="431" width="4" height="6"/>
<rect x="773" y="432" width="4" height="5"/>
<rect x="777" y="434" width="4" height="3"/>
<rect x="781" y="437" width="4" height="1"/>
<rect x="785" y="437" width="4" height="4"/>
<rect x="789" y="437" width="4" height="5"/>
<rect x="793" y="437" width="4" height="7"/>
<rect x="797" y="437" width="4" height="9"/>
<rect x="801" y="437" width="4" height="10"/>
<rect x="805" y="437" width="4" height="10"/>
<rect x="809" y="437" width="4" height="11"/>
<rect x="813" y="437" width="4" height="11"/>
<rect x="821" y="437" width="4" height="12"/>
<rect x="825" y="437" width="4" height="16"/>
<rect x="829" y="437" width="4" height="19"/>
<rect x="833" y="437" width="4" height="22"/>
<rect x="837" y="437" width="4" height="25"/>
<rect x="841" y="437" width="4" height="25"/>
</g>
<g fill="#191970">
<rect x="2" y="2" width="868" height="1"/>
<rect x="2" y="2" width="1" height="374"/>
<rect x="2" y="375" width="868" height="1"/>
<rect x="2" y="377" width="868" height="1"/>
<rect x="2" y="377" width="1" height="103"/>
<rect x="2" y="479" width="868" height="1"/>
<rect x="869" y="2" width="1" height="374"/>
<rect x="869" y="377" width="1" height="103"/>
<rect x="870" y="9" width="2" height="1"/>
<rect x="870" y="42" width="2" height="1"/>
<rect x="870" y="75" width="2" height="1"/>
<rect x="870" y="108" width="2" height="1"/>
<rect x="870" y="141" width="2" height="1"/>
<rect x="870" y="174" width="2" height="1"/>
<rect x="870" y="207" width="2" height="1"/>
<rect x="870" y="240" width="2" height="1"/>
<rect x="870" y="273" width="2" height="1"/>
<rect x="870" y="306" width="2" height="1"/>
<rect x="870" y="339" width="2" height="1"/>
<rect x="870" y="372" width="2" height="1"/>
<rect x="870" y="379" width="1" height="1"/>
<rect x="870" y="437" width="2" height="1"/>
<rect x="870" y="478" width="1" height="1"/>
<rect x="3" y="480" width="1" height="3"/>
<rect x="67" y="480" width="1" height="3"/>
<rect x="131" y="480" width="1" height="3"/>
<rect x="195" y="480" width="1" height="3"/>
<rect x="259" y="480" width="1" height="3"/>
<rect x="323" y="480" width="1" height="3"/>
<rect x="387" y="480" width="1" height="3"/>
<rect x="451" y="480" width="1" height="3"/>
<rect x="515" y="480" width="1" height="3"/>
<rect x="579" y="480" width="1" height="3"/>
<rect x="643" y="480" width="1" height="3"/>
<rect x="707" y="480" width="1" height="3"/>
<rect x="771" y="480" width="1" height="3"/>
<rect x="835" y="480" width="1" height="3"/>
</g>
<text x="875.4" y="12.8">19.3920</text>
<text x="875.4" y="45.8">19.2520</text>
<text x="875.4" y="78.8">19.1080</text>
<text x="875.4" y="111.8">18.9640</text>
<text x="875.4" y="144.8">18.8200</text>
<text x="875.4" y="177.8">18.6760</text>
<text x="875.4" y="210.8">18.5360</text>
<text x="875.4" y="243.8">18.3920</text>
<text x="875.4" y="276.8">18.2480</text>
<text x="875.4" y="309.8">18.1040</text>
<text x="875.4" y="342.8">17.9600</text>
<text x="875.4" y="375.8">17.8200</text>
<text x="873.2" y="387.8">0.92844</text>
<text x="873.2" y="440.8">0.00</text>
<text x="873.2" y="475.6">-0.66568</text>
<rect x="870" y="250" width="2" height="1" fill="#228b22"/>
<rect x="871" y="244" width="41" height="11" fill="#228b22"/>
<text x="875.5" y="252.4" style="fill:#fff;stroke:#fff">18.3500</text>
<rect x="871" y="337" width="41" height="11" fill="#191970"/>
<text x="875.5" y="345.4" style="fill:#fff;stroke:#fff">17.9484</text>
<text x="2.4" y="492">2 Apr 2020</text>
<text x="66.4" y="492">7 Apr 00:00</text>
<text x="130.4" y="492">9 Apr 16:00</text>
<text x="194.4" y="492">14 Apr 08:00</text>
<text x="258.4" y="492">17 Apr 00:00</text>
<text x="322.4" y="492">21 Apr 16:00</text>
<text x="386.4" y="492">24 Apr 08:00</text>
<text x="450.4" y="492">29 Apr 00:00</text>
<text x="514.4" y="492">1 May 16:00</text>
<text x="578.4" y="492">6 May 08:00</text>
<text x="642.4" y="492">11 May 00:00</text>
<text x="706.4" y="492">13 May 16:00</text>
<text x="770.4" y="492">18 May 08:00</text>
<text x="834.4" y="492">21 May 00:00</text>
<path d="M5.9 9.1h7.4l-3.7 4.1z" fill="#191970"/>
<text x="18.4" y="13.6" xml:space="preserve" style="white-space:pre">USDZAR,H4  17.9797 18.0433 17.9481 17.9484</text>
<text x="8" y="390">AO -0.38793</text>
</svg></body></html>
